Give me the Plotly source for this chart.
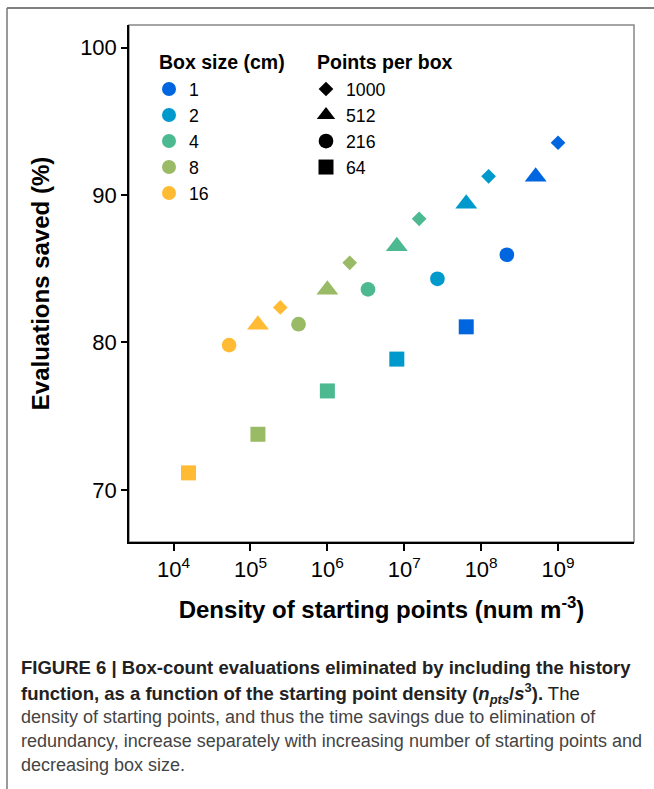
import plotly.graph_objects as go

# ---- data ----
box_sizes = ["1", "2", "4", "8", "16"]          # cm
box_colors = ["#0066E0", "#0099CC", "#4DB991", "#99BB66", "#FFBB33"]
points_labels = ["1000", "512", "216", "64"]
points_symbols = ["diamond", "triangle-up", "circle", "square"]
points_sizes = [11.3, 19, 14.7, 15]

# density of starting points (num m^-3), ordered by box size 1,2,4,8,16 cm
density_1000 = [1.0e9, 1.25e8, 1.5625e7, 1.953e6, 2.441e5]
density_512 = [5.12e8, 6.4e7, 8.0e6, 1.0e6, 1.25e5]
density_216 = [2.16e8, 2.7e7, 3.375e6, 4.219e5, 5.273e4]
density_64 = [6.4e7, 8.0e6, 1.0e6, 1.25e5, 1.5625e4]

# evaluations saved (%)
saved_1000 = [93.55, 91.27, 88.39, 85.40, 82.38]
saved_512 = [91.24, 89.41, 86.53, 83.57, 81.20]
saved_216 = [85.95, 84.32, 83.60, 81.24, 79.82]
saved_64 = [81.06, 78.87, 76.71, 73.77, 71.15]

x_tickvals = [1e4, 1e5, 1e6, 1e7, 1e8, 1e9]
x_ticktext = ["10<sup>4</sup>", "10<sup>5</sup>", "10<sup>6</sup>",
              "10<sup>7</sup>", "10<sup>8</sup>", "10<sup>9</sup>"]
y_tickvals = [70, 80, 90, 100]

caption_lines = [
    "<b>FIGURE 6 | Box-count evaluations eliminated by including the history</b>",
    "<b>function, as a function of the starting point density (<i>n</i><sub><i>pts</i></sub>/<i>s</i><sup>3</sup>).</b> The",
    "density of starting points, and thus the time savings due to elimination of",
    "redundancy, increase separately with increasing number of starting points and",
    "decreasing box size.",
]

FONT = "Liberation Sans, Arial, sans-serif"

# ---- layout geometry (pixels) ----
W, H = 654, 789
ML, MR, MT, MB = 129, 20, 25, 247
PW, PH = W - ML - MR, H - MT - MB


def px(x):
    return (x - ML) / PW


def py(y):
    return (H - MB - y) / PH


fig = go.Figure()

series = [
    (density_1000, saved_1000),
    (density_512, saved_512),
    (density_216, saved_216),
    (density_64, saved_64),
]
for (dens, sav), sym, sz in zip(series, points_symbols, points_sizes):
    fig.add_trace(go.Scatter(
        x=dens, y=sav, mode="markers", showlegend=False,
        marker=dict(symbol=sym, size=sz, color=box_colors, line=dict(width=0)),
        hoverinfo="x+y",
    ))

# legend entries: box size (colour)
for lab, col in zip(box_sizes, box_colors):
    fig.add_trace(go.Scatter(
        x=[None], y=[None], mode="markers", name=lab, legend="legend",
        marker=dict(symbol="circle", size=14, color=col),
    ))
# legend entries: points per box (shape)
for lab, sym, sz in zip(points_labels, points_symbols, points_sizes):
    fig.add_trace(go.Scatter(
        x=[None], y=[None], mode="markers", name=lab, legend="legend2",
        marker=dict(symbol=sym, size=min(sz, 16), color="black"),
    ))

axis_common = dict(
    showgrid=False, zeroline=False, showline=True, linecolor="black", linewidth=1.5,
    ticks="outside", tickcolor="black", tickwidth=1.5,
    tickfont=dict(family=FONT, size=22, color="black"),
)

LEG_FONT = dict(family=FONT, size=17.7, color="black")

fig.update_layout(
    width=W, height=H,
    margin=dict(l=ML, r=MR, t=MT, b=MB, autoexpand=False),
    paper_bgcolor="white", plot_bgcolor="white",
    font=dict(family=FONT, color="black"),
    xaxis=dict(
        type="log", range=[3.42, 9.988], tickvals=x_tickvals, ticktext=x_ticktext,
        ticklen=7,
        title=dict(text="<b>Density of starting points (num m<sup>-3</sup>)</b>",
                   font=dict(family=FONT, size=24, color="black"), standoff=20),
        **axis_common,
    ),
    yaxis=dict(
        range=[66.46, 101.54], tickvals=y_tickvals, ticklen=6,
        title=dict(text="<b>Evaluations saved (%)</b>",
                   font=dict(family=FONT, size=24, color="black"), standoff=24),
        **axis_common,
    ),
    legend=dict(
        x=px(149), y=py(71), xanchor="left", yanchor="top",
        bgcolor="rgba(0,0,0,0)", borderwidth=0, font=LEG_FONT,
        itemwidth=30, tracegroupgap=0,
    ),
    legend2=dict(
        x=px(306), y=py(71), xanchor="left", yanchor="top",
        bgcolor="rgba(0,0,0,0)", borderwidth=0, font=LEG_FONT,
        itemwidth=30, tracegroupgap=0,
    ),
    shapes=[
        # grey plot box (top/right)
        dict(type="rect", xref="paper", yref="paper", x0=0, y0=0, x1=1, y1=1,
             line=dict(color="#888888", width=1.5), layer="below"),
        # page frame
        dict(type="line", xref="paper", yref="paper", x0=px(7), y0=py(8), x1=px(W + 5), y1=py(8),
             line=dict(color="#555555", width=1.5)),
        dict(type="line", xref="paper", yref="paper", x0=px(7), y0=py(8), x1=px(7), y1=py(H + 5),
             line=dict(color="#777777", width=1.5)),
    ],
)

annotations = [
    dict(text="<b>Box size (cm)</b>", x=px(157), y=py(62), xanchor="left", yanchor="middle",
         font=dict(family=FONT, size=19.5, color="black")),
    dict(text="<b>Points per box</b>", x=px(315), y=py(62), xanchor="left", yanchor="middle",
         font=dict(family=FONT, size=19.5, color="black")),
]
cap_y = [668, 693, 717, 741, 765]
for i, (line, yy) in enumerate(zip(caption_lines, cap_y)):
    annotations.append(dict(
        text=line, x=px(19), y=py(yy), xanchor="left", yanchor="middle", align="left",
        font=dict(family=FONT, size=18.5 if i < 2 else 18, color="#222222" if i < 2 else "#444444"),
    ))
for a in annotations:
    a.update(xref="paper", yref="paper", showarrow=False)
fig.update_layout(annotations=annotations)

fig.write_html("out.html")
